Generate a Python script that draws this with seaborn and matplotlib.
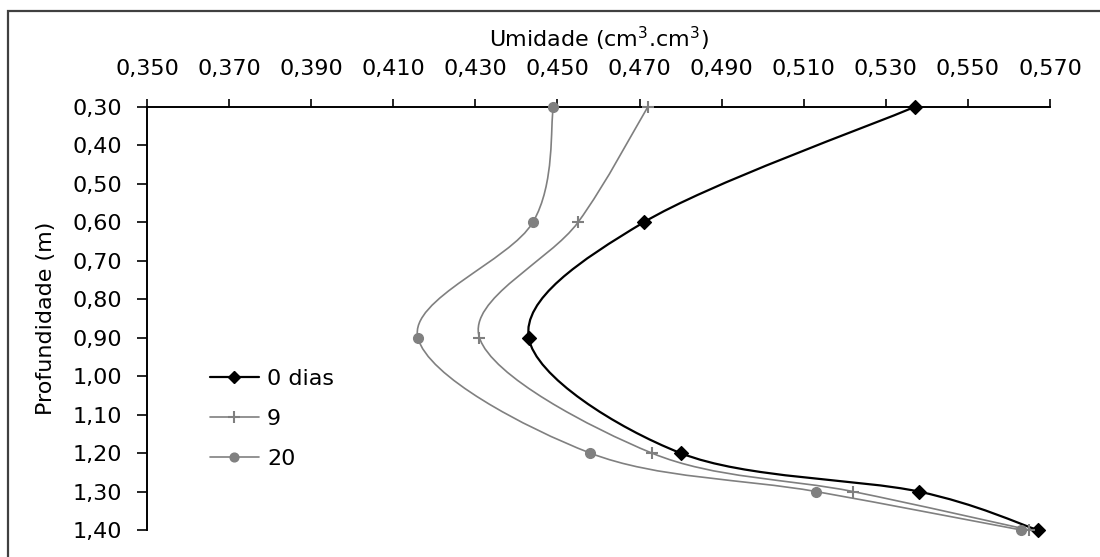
import numpy as np
import matplotlib
matplotlib.use("Agg")
import matplotlib.pyplot as plt
import seaborn as sns
import pandas as pd
from matplotlib.path import Path
from matplotlib.patches import PathPatch, Rectangle
from matplotlib.lines import Line2D

# ---- data ----
depths = [0.30, 0.60, 0.90, 1.20, 1.30, 1.40]
umid_0 = [0.537, 0.471, 0.443, 0.480, 0.538, 0.567]
umid_9 = [0.472, 0.455, 0.431, 0.473, 0.522, 0.565]
umid_20 = [0.449, 0.444, 0.416, 0.458, 0.513, 0.563]
series_names = ["0 dias", "9", "20"]
x_ticks = [0.350, 0.370, 0.390, 0.410, 0.430, 0.450, 0.470, 0.490, 0.510, 0.530, 0.550, 0.570]
x_ticklabels = ["0,350", "0,370", "0,390", "0,410", "0,430", "0,450", "0,470", "0,490", "0,510", "0,530", "0,550", "0,570"]
y_ticks = [0.30, 0.40, 0.50, 0.60, 0.70, 0.80, 0.90, 1.00, 1.10, 1.20, 1.30, 1.40]
y_ticklabels = ["0,30", "0,40", "0,50", "0,60", "0,70", "0,80", "0,90", "1,00", "1,10", "1,20", "1,30", "1,40"]

sns.set_style("white")
plt.rcParams['font.family'] = ['DejaVu Sans']
plt.rcParams['text.color'] = 'black'
plt.rcParams['axes.labelcolor'] = 'black'
FS_TICK = 16
FS_LAB = 16
FS_LEG = 16

W, H = 1100, 557
fig = plt.figure(figsize=(W / 100, H / 100), dpi=100)
L, R, T, B = 147, 1050, 107, 530
ax = fig.add_axes([L / W, 1 - B / H, (R - L) / W, (B - T) / H])

# outer chart border (left and top visible)
fig.patches.append(Rectangle((8 / W, -0.05), 1.2, 1 - 11 / H + 0.05, transform=fig.transFigure,
                             fill=False, edgecolor="#404040", linewidth=1.6, zorder=0))

styles = {
    "0 dias": dict(color="black", marker="D", ms=7, lw=1.6, mew=1.0),
    "9": dict(color="#7f7f7f", marker="+", ms=9, lw=1.2, mew=1.5),
    "20": dict(color="#808080", marker="o", ms=7, lw=1.2, mew=1.0),
}

df = pd.DataFrame({
    "depth": depths * 3,
    "umid": umid_0 + umid_9 + umid_20,
    "serie": sum([[n] * len(depths) for n in series_names], []),
})


def smooth_path(xs, ys, k=1 / 6):
    pts = np.column_stack([xs, ys])
    verts = [pts[0]]
    codes = [Path.MOVETO]
    n = len(pts)
    for i in range(n - 1):
        p0 = pts[i - 1] if i > 0 else pts[i]
        p1 = pts[i]
        p2 = pts[i + 1]
        p3 = pts[i + 2] if i + 2 < n else pts[i + 1]
        c1 = p1 + (p2 - p0) * k
        c2 = p2 - (p3 - p1) * k
        verts += [c1, c2, p2]
        codes += [Path.CURVE4] * 3
    return Path(verts, codes)


handles = []
for name in series_names:
    sub = df[df["serie"] == name]
    st = styles[name]
    ax.add_patch(PathPatch(smooth_path(sub["umid"].values, sub["depth"].values),
                           facecolor="none", edgecolor=st["color"], lw=st["lw"], zorder=2,
                           clip_on=False))
    sns.scatterplot(data=sub, x="umid", y="depth", ax=ax, marker=st["marker"], s=st["ms"] ** 2,
                    color=st["color"], edgecolor=st["color"], linewidth=st["mew"], zorder=3,
                    clip_on=False, legend=False)
    handles.append(Line2D([], [], color=st["color"], lw=st["lw"], marker=st["marker"],
                          ms=st["ms"] * 0.9, mew=st["mew"], mfc=st["color"], mec=st["color"]))

ax.set_xlim(0.350, 0.570)
ax.set_ylim(1.40, 0.30)
ax.set_xticks(x_ticks)
ax.set_xticklabels(x_ticklabels, fontsize=FS_TICK)
ax.set_yticks(y_ticks)
ax.set_yticklabels(y_ticklabels, fontsize=FS_TICK)
ax.xaxis.tick_top()
ax.xaxis.set_label_position("top")
ax.tick_params(axis="x", direction="out", length=6, width=1.2, pad=14, top=True, bottom=False, colors="black")
ax.tick_params(axis="y", direction="out", length=7, width=1.2, pad=11, left=True, right=False, colors="black")
for s in ["right", "bottom"]:
    ax.spines[s].set_visible(False)
for s in ["top", "left"]:
    ax.spines[s].set_visible(True)
    ax.spines[s].set_color("black")
    ax.spines[s].set_linewidth(1.4)
ax.set_xlabel("Umidade (cm$^3$.cm$^3$)", fontsize=FS_LAB, labelpad=9)
ax.set_ylabel("Profundidade (m)", fontsize=FS_LAB, labelpad=12)
ax.patch.set_alpha(0)

leg = fig.legend(handles, series_names, loc="upper left",
                 bbox_to_anchor=(210 / W, 1 - 369 / H), frameon=False, fontsize=FS_LEG,
                 handlelength=2.2, handletextpad=0.36, labelspacing=0.9, borderpad=0,
                 borderaxespad=0)

fig.savefig("out.png", dpi=100, facecolor="white")
